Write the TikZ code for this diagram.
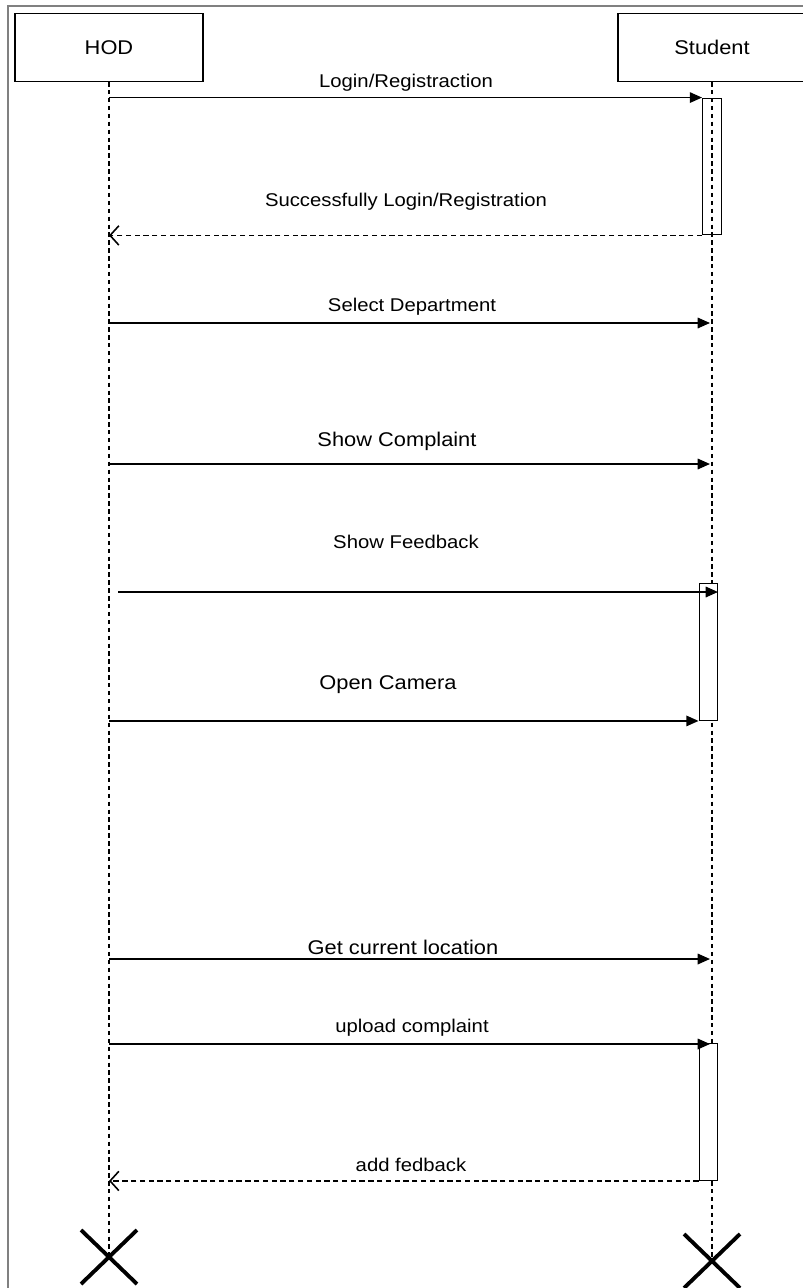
\documentclass[tikz,border=0pt]{standalone}
\usepackage{fontspec}
\setmainfont{Liberation Sans}[FakeStretch=1.1]
\usetikzlibrary{arrows.meta, positioning, calc}

\begin{document}
\begin{tikzpicture}[x=0.02cm, y=-0.02cm,
  actor/.style={draw, line width=0.8pt, minimum width=3.76cm, minimum height=1.36cm,
                font=\fontsize{11.3}{13}\selectfont},
  act/.style={draw, line width=0.8pt, minimum width=0.37cm, minimum height=2.73cm,
              inner sep=0pt},
  life/.style={dash pattern=on 2.5pt off 2pt, line width=0.6pt},
  msg/.style={-{Triangle[length=7pt, width=6pt]}, line width=0.9pt},
  ret/.style={-{Straight Barb[length=5pt, width=11pt]}, dash pattern=on 3pt off 2pt,
              line width=0.9pt},
  lbl/.style={inner sep=0pt, font=\fontsize{10.5}{12}\selectfont},
  biglbl/.style={inner sep=0pt, font=\fontsize{11.3}{13}\selectfont},
  kill/.style={line width=2.2pt}
]
  \useasboundingbox (0,0) rectangle (802,1288);
  \draw[gray, line width=1.2pt] (8,1300) -- (8,6) -- (820,6);

  \node[actor] (hod) at (109,47.5) {HOD};
  \node[actor] (stu) at (712,47.5) {Student};

  \coordinate (hx) at (109,1257);
  \coordinate (sx) at (712,1261);
  \draw[life] (hod.south) -- (hx);
  \draw[life] (stu.south) -- (sx);

  \node[act] (a1) at (712,166.5) {};
  \node[act, fill=white] (a2) at (708.5,652) {};
  \node[act, fill=white] (a3) at (708.5,1112) {};

  \draw[msg] (a1.north west -| hod.south) -- (a1.north west);
  \node[lbl] (l1) at (406,83) {Login/Registraction};

  \draw[ret] (a1.south west) -- (a1.south west -| hod.south);
  \node[lbl] (l2) at (406,202) {Successfully Login/Registration};

  \coordinate (h3) at (109,323);
  \coordinate (s3) at (710,323);
  \draw[msg] (h3) -- (s3);
  \node[lbl] (l3) at (412,307) {Select Department};

  \coordinate (h4) at (109,464);
  \coordinate (s4) at (710,464);
  \draw[msg] (h4) -- (s4);
  \node[biglbl] (l4) at (397,441) {Show Complaint};

  \coordinate (h5) at (118,592);
  \coordinate (s5) at (718,592);
  \draw[msg] (h5) -- (s5);
  \node[lbl] (l5) at (406,542) {Show Feedback};

  \draw[msg] (a2.south west -| hod.south) -- (a2.south west);
  \node[biglbl] (l6) at (388,685) {Open Camera};

  \coordinate (h7) at (109,959);
  \coordinate (s7) at (710,959);
  \draw[msg] (h7) -- (s7);
  \node[biglbl] (l7) at (403,947) {Get current location};

  \coordinate (h8) at (109,1044);
  \coordinate (s8) at (710,1044);
  \draw[msg] (h8) -- (s8);
  \node[lbl] (l8) at (412,1028) {upload complaint};

  \draw[ret] (a3.south west) -- (a3.south west -| hod.south);
  \node[lbl] (l9) at (411,1165) {add fedback};

  \draw[kill] ($(hx)+(-28,-27)$) -- ($(hx)+(28,27)$);
  \draw[kill] ($(hx)+(28,-27)$) -- ($(hx)+(-28,27)$);
  \draw[kill] ($(sx)+(-28,-27)$) -- ($(sx)+(28,27)$);
  \draw[kill] ($(sx)+(28,-27)$) -- ($(sx)+(-28,27)$);
\end{tikzpicture}
\end{document}
